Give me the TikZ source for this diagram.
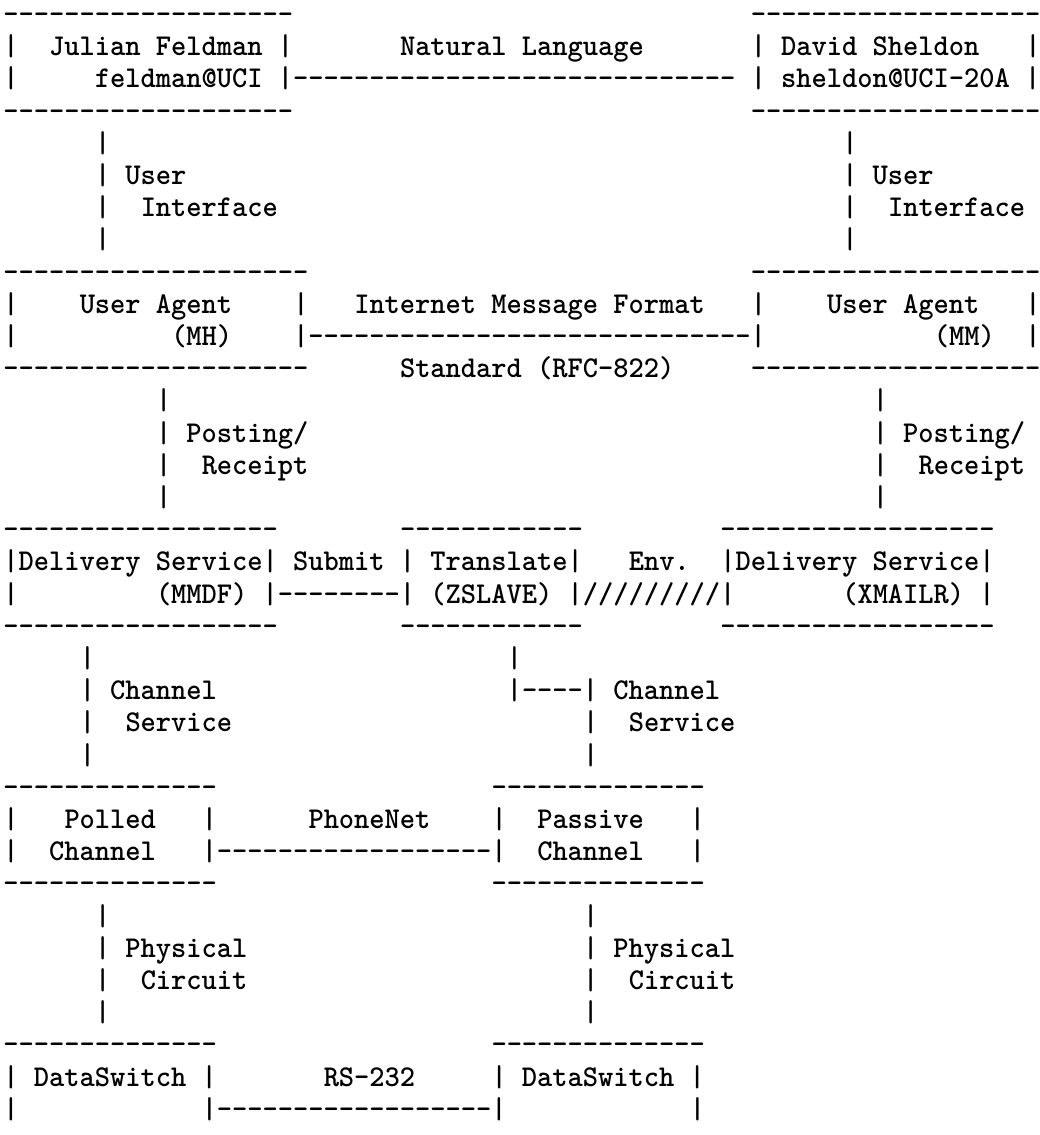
\documentclass[tikz,border=0pt]{standalone}
\usepackage{fontspec}
\setmonofont{lmmonolt10-bold}[Extension=.otf]
\ExplSyntaxOn
\cs_new:Npn \myrep #1#2 { \prg_replicate:nn {#1} {#2} }
\ExplSyntaxOff
\tikzset{txt/.style={anchor=base west, inner sep=0pt, outer sep=0pt,
  text height=0.55em, text depth=0.2em,
  font=\ttfamily\fontsize{14.52pt}{16pt}\selectfont, yscale=1.04}}
\newcommand\ascii[3]{\node[txt] (n#1c#2) at ({3.5+15.25*(#2)},{23.5+32.2*(#1)}) {#3};}
\begin{document}
\begin{tikzpicture}[x=0.5pt,y=-0.5pt]
\useasboundingbox (0,0) rectangle (1039,1135);
\ascii{0}{0}{\myrep{19}{-}} \ascii{0}{49}{\myrep{19}{-}}
\ascii{1}{0}{|} \ascii{1}{3}{Julian Feldman |} \ascii{1}{26}{Natural Language} \ascii{1}{49}{| David Sheldon} \ascii{1}{67}{|}
\ascii{2}{0}{|} \ascii{2}{6}{feldman@UCI |\myrep{29}{-}} \ascii{2}{49}{| sheldon@UCI-20A |}
\ascii{3}{0}{\myrep{19}{-}} \ascii{3}{49}{\myrep{19}{-}}
\ascii{4}{6}{|} \ascii{4}{55}{|}
\ascii{5}{6}{| User} \ascii{5}{55}{| User}
\ascii{6}{6}{|} \ascii{6}{9}{Interface} \ascii{6}{55}{|} \ascii{6}{58}{Interface}
\ascii{7}{6}{|} \ascii{7}{55}{|}
\ascii{8}{0}{\myrep{20}{-}} \ascii{8}{49}{\myrep{19}{-}}
\ascii{9}{0}{|} \ascii{9}{5}{User Agent} \ascii{9}{19}{|} \ascii{9}{23}{Internet Message Format} \ascii{9}{49}{|} \ascii{9}{54}{User Agent} \ascii{9}{67}{|}
\ascii{10}{0}{|} \ascii{10}{11}{(MH)} \ascii{10}{19}{|\myrep{29}{-}|} \ascii{10}{61}{(MM)} \ascii{10}{67}{|}
\ascii{11}{0}{\myrep{20}{-}} \ascii{11}{26}{Standard (RFC-822)} \ascii{11}{49}{\myrep{19}{-}}
\ascii{12}{10}{|} \ascii{12}{57}{|}
\ascii{13}{10}{| Posting/} \ascii{13}{57}{| Posting/}
\ascii{14}{10}{|} \ascii{14}{13}{Receipt} \ascii{14}{57}{|} \ascii{14}{60}{Receipt}
\ascii{15}{10}{|} \ascii{15}{57}{|}
\ascii{16}{0}{\myrep{18}{-}} \ascii{16}{26}{\myrep{12}{-}} \ascii{16}{47}{\myrep{18}{-}}
\ascii{17}{0}{|Delivery Service| Submit | Translate|} \ascii{17}{41}{Env.} \ascii{17}{47}{|Delivery Service|}
\ascii{18}{0}{|} \ascii{18}{10}{(MMDF) |\myrep{8}{-}| (ZSLAVE) |\myrep{9}{/}|} \ascii{18}{55}{(XMAILR) |}
\ascii{19}{0}{\myrep{18}{-}} \ascii{19}{26}{\myrep{12}{-}} \ascii{19}{47}{\myrep{18}{-}}
\ascii{20}{5}{|} \ascii{20}{33}{|}
\ascii{21}{5}{| Channel} \ascii{21}{33}{|----| Channel}
\ascii{22}{5}{|} \ascii{22}{8}{Service} \ascii{22}{38}{|} \ascii{22}{41}{Service}
\ascii{23}{5}{|} \ascii{23}{38}{|}
\ascii{24}{0}{\myrep{14}{-}} \ascii{24}{32}{\myrep{14}{-}}
\ascii{25}{0}{|} \ascii{25}{4}{Polled} \ascii{25}{13}{|} \ascii{25}{20}{PhoneNet} \ascii{25}{32}{|} \ascii{25}{35}{Passive} \ascii{25}{45}{|}
\ascii{26}{0}{|} \ascii{26}{3}{Channel} \ascii{26}{13}{|\myrep{18}{-}|} \ascii{26}{35}{Channel} \ascii{26}{45}{|}
\ascii{27}{0}{\myrep{14}{-}} \ascii{27}{32}{\myrep{14}{-}}
\ascii{28}{6}{|} \ascii{28}{38}{|}
\ascii{29}{6}{| Physical} \ascii{29}{38}{| Physical}
\ascii{30}{6}{|} \ascii{30}{9}{Circuit} \ascii{30}{38}{|} \ascii{30}{41}{Circuit}
\ascii{31}{6}{|} \ascii{31}{38}{|}
\ascii{32}{0}{\myrep{14}{-}} \ascii{32}{32}{\myrep{14}{-}}
\ascii{33}{0}{| DataSwitch |} \ascii{33}{21}{RS-232} \ascii{33}{32}{| DataSwitch |}
\ascii{34}{0}{|} \ascii{34}{13}{|\myrep{18}{-}|} \ascii{34}{45}{|}
\end{tikzpicture}
\end{document}
